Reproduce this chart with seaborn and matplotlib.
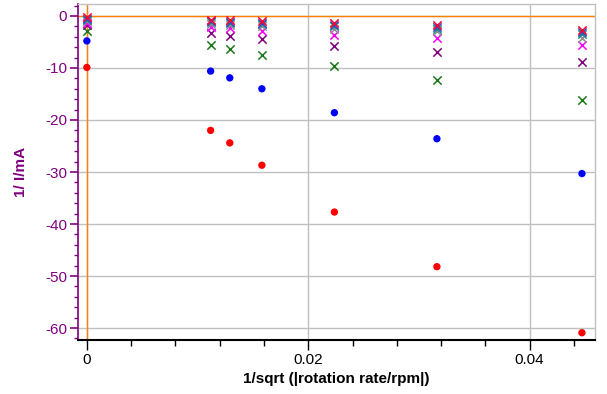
import numpy as np
import pandas as pd
import matplotlib
matplotlib.use('Agg')
import matplotlib.pyplot as plt
import seaborn as sns
from matplotlib.ticker import MultipleLocator, FixedLocator

# x positions: 1/sqrt(rpm) for inf, 8000, 6000, 4000, 2000, 1000, 500 rpm
x_vals = [0.0, 0.01118, 0.01291, 0.01581, 0.02236, 0.03162, 0.04472]

# series (1/I in 1/mA)
red_dot = [-9.9, -22.0, -24.4, -28.7, -37.7, -48.2, -60.9]
blue_dot = [-4.8, -10.6, -11.9, -14.0, -18.6, -23.6, -30.3]
green_x = [-2.8, -5.6, -6.4, -7.5, -9.6, -12.3, -16.1]
purple_x = [-1.7, -3.3, -3.8, -4.4, -5.7, -7.0, -8.8]
magenta_x = [-1.3, -2.1, -2.4, -2.8, -3.6, -4.3, -5.6]
gray_x = [-1.0, -1.5, -1.7, -1.9, -2.5, -2.9, -4.2]
teal_x = [-0.7, -1.2, -1.3, -1.5, -2.0, -2.5, -3.4]
blue_x = [-0.5, -1.0, -1.1, -1.3, -1.7, -2.1, -3.1]
red_x = [-0.2, -0.7, -0.8, -1.0, -1.3, -1.7, -2.7]

series = [
    ('red_dot', red_dot, '#ff0000', 'o'),
    ('blue_dot', blue_dot, '#0000ff', 'o'),
    ('green_x', green_x, '#1a7a1a', 'x'),
    ('purple_x', purple_x, '#800080', 'x'),
    ('magenta_x', magenta_x, '#ff00ff', 'x'),
    ('gray_x', gray_x, '#909090', 'x'),
    ('teal_x', teal_x, '#2a8a8a', 'x'),
    ('blue_x', blue_x, '#3050c0', 'x'),
    ('red_x', red_x, '#ff0030', 'x'),
]

sns.set_style('white')
plt.rcParams['font.family'] = ['Liberation Sans', 'DejaVu Sans']
plt.rcParams['axes.unicode_minus'] = False

fig = plt.figure(figsize=(6.07, 3.94), dpi=100)
ax = fig.add_axes([78 / 607, 1 - 340 / 394, (595 - 78) / 607, (340 - 4) / 394])

for name, vals, col, mk in series:
    df = pd.DataFrame({'x': x_vals, 'y': vals})
    if mk == 'o':
        sns.scatterplot(data=df, x='x', y='y', color=col, marker='o', s=28,
                        edgecolor='none', ax=ax, zorder=3)
    else:
        sns.scatterplot(data=df, x='x', y='y', color=col, marker='x', s=36,
                        linewidth=1.1, ax=ax, zorder=3)

ax.set_xlim(-0.0008, 0.0459)
ax.set_ylim(-62.3, 2.3)

# zero lines
ax.axhline(0, color='#ff8000', lw=1, zorder=2)
ax.axvline(0, color='#ff8000', lw=1, zorder=2)

ax.xaxis.set_major_locator(FixedLocator([0, 0.02, 0.04]))
ax.set_xticklabels(['0', '0.02', '0.04'])
ax.xaxis.set_minor_locator(MultipleLocator(0.004))
ax.yaxis.set_major_locator(MultipleLocator(10))
ax.yaxis.set_minor_locator(MultipleLocator(2))

ax.grid(True, which='major', color='#c0c0c0', lw=1, zorder=0)
ax.set_axisbelow(True)

for s in ['top', 'right']:
    ax.spines[s].set_color('#c0c0c0')
    ax.spines[s].set_linewidth(1)
ax.spines['left'].set_color('#800080')
ax.spines['left'].set_linewidth(1.2)
ax.spines['bottom'].set_color('black')
ax.spines['bottom'].set_linewidth(1.5)

ax.tick_params(axis='y', which='major', direction='out', length=6, width=1.2,
               colors='#800080', labelsize=11, left=True, pad=2)
ax.tick_params(axis='y', which='minor', direction='out', length=3, width=1,
               colors='#800080', left=True)
ax.tick_params(axis='x', which='major', direction='out', length=7, width=1,
               colors='black', labelsize=11, bottom=True, pad=2)
ax.tick_params(axis='x', which='minor', direction='out', length=4, width=1,
               colors='black', bottom=True)

ax.set_xlabel('1/sqrt (|rotation rate/rpm|)', fontsize=11, fontweight='bold',
              color='black', labelpad=4)
ax.set_ylabel('1/ I/mA', fontsize=11, fontweight='bold', color='#800080',
              labelpad=12)

fig.savefig('out.png', dpi=100)
